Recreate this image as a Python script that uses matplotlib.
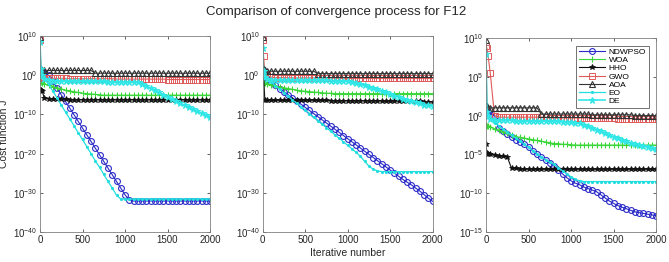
import numpy as np
import matplotlib
matplotlib.use("Agg")
import matplotlib.pyplot as plt

plt.rcParams['font.family'] = ['Liberation Sans', 'DejaVu Sans']

# Iteration sample points
ITER = [0, 10, 25, 50] + list(range(100, 2001, 50))

# ---------- Panel 1 (log10 of cost) ----------
p1_ndwpso = [0.0, 0.8, 1.0, 0.5, 0.0, -1.6, -3.3, -5.0, -6.7, -8.4, -10.1, -11.8, -13.5, -15.2,
             -16.9, -18.6, -20.3, -22.0, -23.7, -25.4, -27.1, -28.8, -30.5, -31.9, -32.1, -32.1,
             -32.1, -32.1, -32.1, -32.1, -32.1, -32.1, -32.1, -32.1, -32.1, -32.1, -32.1, -32.1,
             -32.1, -32.1, -32.1, -32.1, -32.1]
p1_woa = [-1.5, -1.8, -2.0, -2.2, -2.5, -2.9, -3.2, -3.5, -3.8, -4.0, -4.2, -4.4, -4.6, -4.7,
          -4.8, -4.9, -5.0, -5.1, -5.1, -5.1, -5.1, -5.1, -5.1, -5.1, -5.1, -5.1, -5.1, -5.1,
          -5.1, -5.1, -5.1, -5.1, -5.1, -5.1, -5.1, -5.1, -5.1, -5.1, -5.1, -5.1, -5.1, -5.1, -5.1]
p1_hho = [-3.8, -3.8, -4.0, -5.8, -6.0, -6.1, -6.1, -6.1, -6.1, -6.2, -6.2, -6.2, -6.2, -6.2,
          -6.2, -6.2, -6.2, -6.2, -6.2, -6.2, -6.2, -6.2, -6.2, -6.2, -6.2, -6.2, -6.2, -6.2,
          -6.2, -6.2, -6.2, -6.2, -6.2, -6.2, -6.2, -6.2, -6.2, -6.2, -6.2, -6.2, -6.2, -6.2, -6.2]
p1_gwo = [9.0, 0.5, -0.5, -0.8, -0.8, -0.8, -0.8, -0.8, -0.8, -0.9, -0.9, -0.9, -0.9, -0.9,
          -0.9, -0.9, -0.9, -0.9, -0.9, -0.9, -1.0, -1.0, -1.0, -1.0, -1.0, -1.0, -1.0, -1.0,
          -1.0, -1.0, -1.0, -1.0, -1.1, -1.1, -1.1, -1.1, -1.1, -1.1, -1.1, -1.1, -1.1, -1.1, -1.1]
p1_aoa = [9.8, 1.5, 1.4, 1.3, 1.2, 1.2, 1.2, 1.2, 1.2, 1.2, 1.2, 1.2, 1.2, 1.2, 1.2,
          0.5, 0.5, 0.5, 0.5, 0.5, 0.5, 0.5, 0.5, 0.5, 0.5, 0.5, 0.5, 0.5, 0.5, 0.5,
          0.5, 0.5, 0.5, 0.5, 0.5, 0.5, 0.5, 0.5, 0.5, 0.5, 0.5, 0.5, 0.5]
p1_eo = [0.7, 0.3, 0.0, -0.5, -2.3, -4.0, -5.8, -7.6, -9.4, -11.1, -12.9, -14.7, -16.4, -18.2,
         -20.0, -21.8, -23.5, -25.3, -27.1, -28.8, -30.6, -31.6, -31.6, -31.6, -31.6, -31.6,
         -31.6, -31.6, -31.6, -31.6, -31.6, -31.6, -31.6, -31.6, -31.6, -31.6, -31.6, -31.6,
         -31.6, -31.6, -31.6, -31.6, -31.6]
p1_de = [8.5, 1.5, 0.0, -1.0, -1.3, -1.4, -1.4, -1.5, -1.5, -1.5, -1.5, -1.6, -1.6, -1.6,
         -1.6, -1.6, -1.6, -1.6, -1.7, -1.7, -1.7, -1.7, -1.7, -1.7, -1.7, -1.7, -2.2, -2.8,
         -3.3, -3.9, -4.4, -5.0, -5.5, -6.1, -6.6, -7.2, -7.7, -8.2, -8.7, -9.2, -9.7, -10.2, -10.6]

# ---------- Panel 2 ----------
p2_ndwpso = [0.0, -0.2, -0.5, -1.0, -1.8, -2.6, -3.4, -4.2, -5.0, -5.8, -6.6, -7.4, -8.2, -9.0,
             -9.8, -10.6, -11.4, -12.2, -13.0, -13.8, -14.6, -15.4, -16.2, -17.0, -17.8, -18.6,
             -19.4, -20.2, -21.0, -21.8, -22.6, -23.4, -24.2, -25.0, -25.8, -26.6, -27.3, -28.0,
             -28.8, -29.6, -30.5, -31.4, -32.2]
p2_woa = [-1.8, -2.0, -2.1, -2.2, -2.4, -2.7, -3.0, -3.2, -3.4, -3.6, -3.8, -4.0, -4.1, -4.2,
          -4.3, -4.4, -4.5, -4.6, -4.6, -4.7, -4.7, -4.7, -4.7, -4.7, -4.7, -4.7, -4.7, -4.7,
          -4.7, -4.7, -4.7, -4.7, -4.7, -4.7, -4.7, -4.7, -4.7, -4.7, -4.7, -4.7, -4.7, -4.7, -4.7]
p2_hho = [0.0, 0.0, -6.3, -6.4, -6.4, -6.4, -6.4, -6.4, -6.4, -6.4, -6.4, -6.4, -6.4, -6.4,
          -6.4, -6.4, -6.4, -6.4, -6.5, -6.5, -6.5, -6.5, -6.5, -6.5, -6.5, -6.5, -6.5, -6.5,
          -6.5, -6.5, -6.6, -6.6, -6.6, -6.6, -6.6, -6.6, -6.7, -6.7, -6.7, -6.7, -6.8, -6.8, -6.8]
p2_gwo = [9.0, 5.0, 0.8, 0.0, -0.5, -0.6, -0.6, -0.6, -0.7, -0.7, -0.7, -0.7, -0.7, -0.7,
          -0.7, -0.7, -0.7, -0.7, -0.7, -0.7, -0.8, -0.8, -0.8, -0.8, -0.8, -0.8, -0.8, -0.8,
          -0.8, -0.8, -0.8, -0.8, -0.8, -0.8, -0.8, -0.8, -0.8, -0.8, -0.8, -0.8, -0.8, -0.8, -0.8]
p2_aoa = [9.8, 1.5, 1.2, 1.1, 1.0, 1.0, 1.0, 1.0, 1.0, 1.0, 1.0, 1.0, 1.0, 1.0, 1.0,
          0.4, 0.4, 0.4, 0.4, 0.4, 0.4, 0.4, 0.4, 0.4, 0.4, 0.4, 0.4, 0.4, 0.4, 0.4,
          0.4, 0.4, 0.4, 0.4, 0.4, 0.4, 0.4, 0.4, 0.4, 0.4, 0.4, 0.4, 0.4]
p2_eo = [0.0, -0.3, -0.6, -1.0, -1.8, -2.7, -3.6, -4.5, -5.4, -6.3, -7.2, -8.0, -8.9, -9.8,
         -10.7, -11.6, -12.5, -13.4, -14.3, -15.2, -16.1, -17.0, -17.9, -18.8, -19.7, -20.7,
         -22.0, -23.2, -24.0, -24.4, -24.6, -24.6, -24.6, -24.6, -24.6, -24.6, -24.6, -24.6,
         -24.6, -24.6, -24.6, -24.6, -24.6]
p2_de = [7.0, 1.0, -0.5, -1.0, -1.1, -1.1, -1.2, -1.2, -1.2, -1.2, -1.2, -1.3, -1.3, -1.3,
         -1.3, -1.3, -1.3, -1.3, -1.4, -1.4, -1.4, -1.5, -1.6, -1.8, -2.0, -2.3, -2.6, -2.9,
         -3.2, -3.6, -4.0, -4.4, -4.8, -5.2, -5.6, -6.0, -6.3, -6.6, -6.9, -7.2, -7.5, -7.7, -7.9]

# ---------- Panel 3 ----------
p3_ndwpso = [0.4, 0.4, 0.3, 0.2, 0.0, -1.6, -2.0, -2.4, -2.8, -3.1, -3.4, -3.7, -4.1, -4.5,
             -4.9, -5.3, -5.7, -6.1, -6.5, -7.0, -7.5, -8.0, -8.4, -8.7, -8.9, -9.2, -9.4,
             -9.6, -9.8, -10.2, -10.6, -11.0, -11.3, -11.6, -11.8, -12.0, -12.2, -12.4, -12.5,
             -12.6, -12.7, -12.8, -12.9]
p3_woa = [-1.2, -1.3, -1.4, -1.5, -1.7, -1.9, -2.1, -2.3, -2.5, -2.7, -2.8, -2.9, -3.0, -3.1,
          -3.2, -3.3, -3.4, -3.5, -3.6, -3.6, -3.7, -3.7, -3.75, -3.8, -3.8, -3.8, -3.8, -3.8,
          -3.8, -3.8, -3.8, -3.8, -3.8, -3.8, -3.8, -3.8, -3.8, -3.8, -3.8, -3.8, -3.8, -3.8, -3.8]
p3_hho = [-3.7, -4.8, -4.9, -5.0, -5.1, -5.2, -5.2, -5.3, -6.8, -6.8, -6.9, -6.9, -6.9, -6.9,
          -6.9, -6.9, -6.9, -6.9, -6.9, -6.9, -6.9, -6.9, -6.9, -6.9, -6.9, -6.9, -6.9, -6.9,
          -6.9, -6.9, -6.9, -6.9, -6.9, -6.9, -6.9, -6.9, -6.9, -6.9, -6.9, -6.9, -6.9, -6.9, -6.9]
p3_gwo = [9.0, 8.7, 7.7, 5.5, 0.0, -0.2, -0.2, -0.2, -0.2, -0.2, -0.2, -0.2, -0.2, -0.2,
          -0.2, -0.2, -0.2, -0.3, -0.3, -0.3, -0.3, -0.3, -0.3, -0.3, -0.3, -0.3, -0.3, -0.3,
          -0.3, -0.3, -0.3, -0.3, -0.3, -0.4, -0.4, -0.4, -0.4, -0.4, -0.4, -0.4, -0.4, -0.4, -0.4]
p3_aoa = [9.8, 1.2, 1.0, 1.0, 1.0, 1.0, 1.0, 1.0, 1.0, 1.0, 1.0, 1.0, 1.0, 1.0, 1.0,
          0.2, 0.2, 0.2, 0.2, 0.2, 0.2, 0.2, 0.2, 0.2, 0.2, 0.2, 0.2, 0.1, 0.1, 0.1,
          0.1, 0.1, 0.1, 0.1, 0.1, 0.1, 0.1, 0.0, 0.0, 0.0, 0.0, 0.0, 0.0]
p3_eo = [0.2, 0.0, -0.2, -0.5, -0.9, -1.3, -1.7, -2.1, -2.5, -2.9, -3.3, -3.7, -4.1, -4.5,
         -4.9, -5.3, -5.7, -6.0, -6.3, -6.7, -7.1, -7.5, -7.9, -8.2, -8.4, -8.5, -8.5, -8.5,
         -8.5, -8.5, -8.5, -8.5, -8.5, -8.5, -8.5, -8.5, -8.5, -8.5, -8.5, -8.5, -8.5, -8.5, -8.5]
p3_de = [7.9, 0.5, 0.0, -0.5, -0.6, -0.6, -0.6, -0.6, -0.6, -0.7, -0.7, -0.7, -0.7, -0.7,
         -0.7, -0.7, -0.7, -0.7, -0.7, -0.7, -0.8, -0.8, -0.8, -0.9, -1.0, -1.2, -1.4, -1.6,
         -1.8, -2.0, -2.3, -2.5, -2.7, -2.9, -3.1, -3.3, -3.5, -3.6, -3.8, -3.9, -4.0, -4.2, -4.3]

ALGOS = ["NDWPSO", "WOA", "HHO", "GWO", "AOA", "EO", "DE"]
PANELS = [
    [p1_ndwpso, p1_woa, p1_hho, p1_gwo, p1_aoa, p1_eo, p1_de],
    [p2_ndwpso, p2_woa, p2_hho, p2_gwo, p2_aoa, p2_eo, p2_de],
    [p3_ndwpso, p3_woa, p3_hho, p3_gwo, p3_aoa, p3_eo, p3_de],
]
YLIMS = [(1e-40, 1e10), (1e-40, 1e10), (1e-15, 1e10)]
YTICKS = [[1e-40, 1e-30, 1e-20, 1e-10, 1e0, 1e10],
          [1e-40, 1e-30, 1e-20, 1e-10, 1e0, 1e10],
          [1e-15, 1e-10, 1e-5, 1e0, 1e5, 1e10]]

STYLES = {
    "NDWPSO": dict(color="#2b2bc8", marker="o", ms=4.2, mfc="none", mew=0.8, lw=0.8),
    "WOA": dict(color="#3ad63a", marker="+", ms=5.0, mew=0.8, lw=0.8),
    "HHO": dict(color="#111111", marker="*", ms=4.0, mew=0.6, lw=0.8),
    "GWO": dict(color="#e05a5a", marker="s", ms=3.8, mfc="none", mew=0.7, lw=0.8),
    "AOA": dict(color="#333333", marker="^", ms=4.5, mfc="none", mew=0.8, lw=0.8),
    "EO": dict(color="#22dede", marker=".", ms=2.5, lw=0.9),
    "DE": dict(color="#30e6e6", marker="*", ms=4.5, mew=0.8, lw=1.2),
}

fig = plt.figure(figsize=(6.69, 2.62), dpi=100)
W, H = 669.0, 262.0
boxes = [(40, 36, 210, 232), (262.7, 36, 432.7, 232), (486, 38, 656, 232)]

x = np.array(ITER)
for i, (box, series) in enumerate(zip(boxes, PANELS)):
    l, t, r, b = box
    ax = fig.add_axes([l / W, 1 - b / H, (r - l) / W, (b - t) / H])
    for name, vals in zip(ALGOS, series):
        st = STYLES[name]
        ax.semilogy(x, 10.0 ** np.array(vals), label=name, **st)
    ax.set_xlim(0, 2000)
    ax.set_ylim(*YLIMS[i])
    ax.set_yticks(YTICKS[i])
    ax.minorticks_off()
    ax.set_xticks([0, 500, 1000, 1500, 2000])
    ax.tick_params(axis="both", which="both", direction="in", top=True, right=True,
                   labelsize=7, length=2.5, width=0.5, colors="#262626", pad=2)
    for sp in ax.spines.values():
        sp.set_linewidth(0.6)
        sp.set_color("#808080")
    if i == 0:
        ax.set_ylabel("Cost function J", fontsize=7.5, color="#262626")
        ax.yaxis.set_label_coords(-0.185, 0.5)
    if i == 1:
        ax.set_xlabel("Iterative number", fontsize=7.5, color="#262626", labelpad=2)
    if i == 2:
        leg = ax.legend(loc="upper right", fontsize=6, frameon=True, fancybox=False,
                        handlelength=3.2, borderpad=0.3, labelspacing=0.05,
                        handletextpad=0.4, borderaxespad=0.9)
        leg.get_frame().set_edgecolor("#333333")
        leg.get_frame().set_linewidth(0.6)

fig.text(336 / W, 1 - 12 / H, "Comparison of convergence process for F12",
         ha="center", va="center", fontsize=9.5, color="#262626")

fig.savefig("out.png", dpi=100)
